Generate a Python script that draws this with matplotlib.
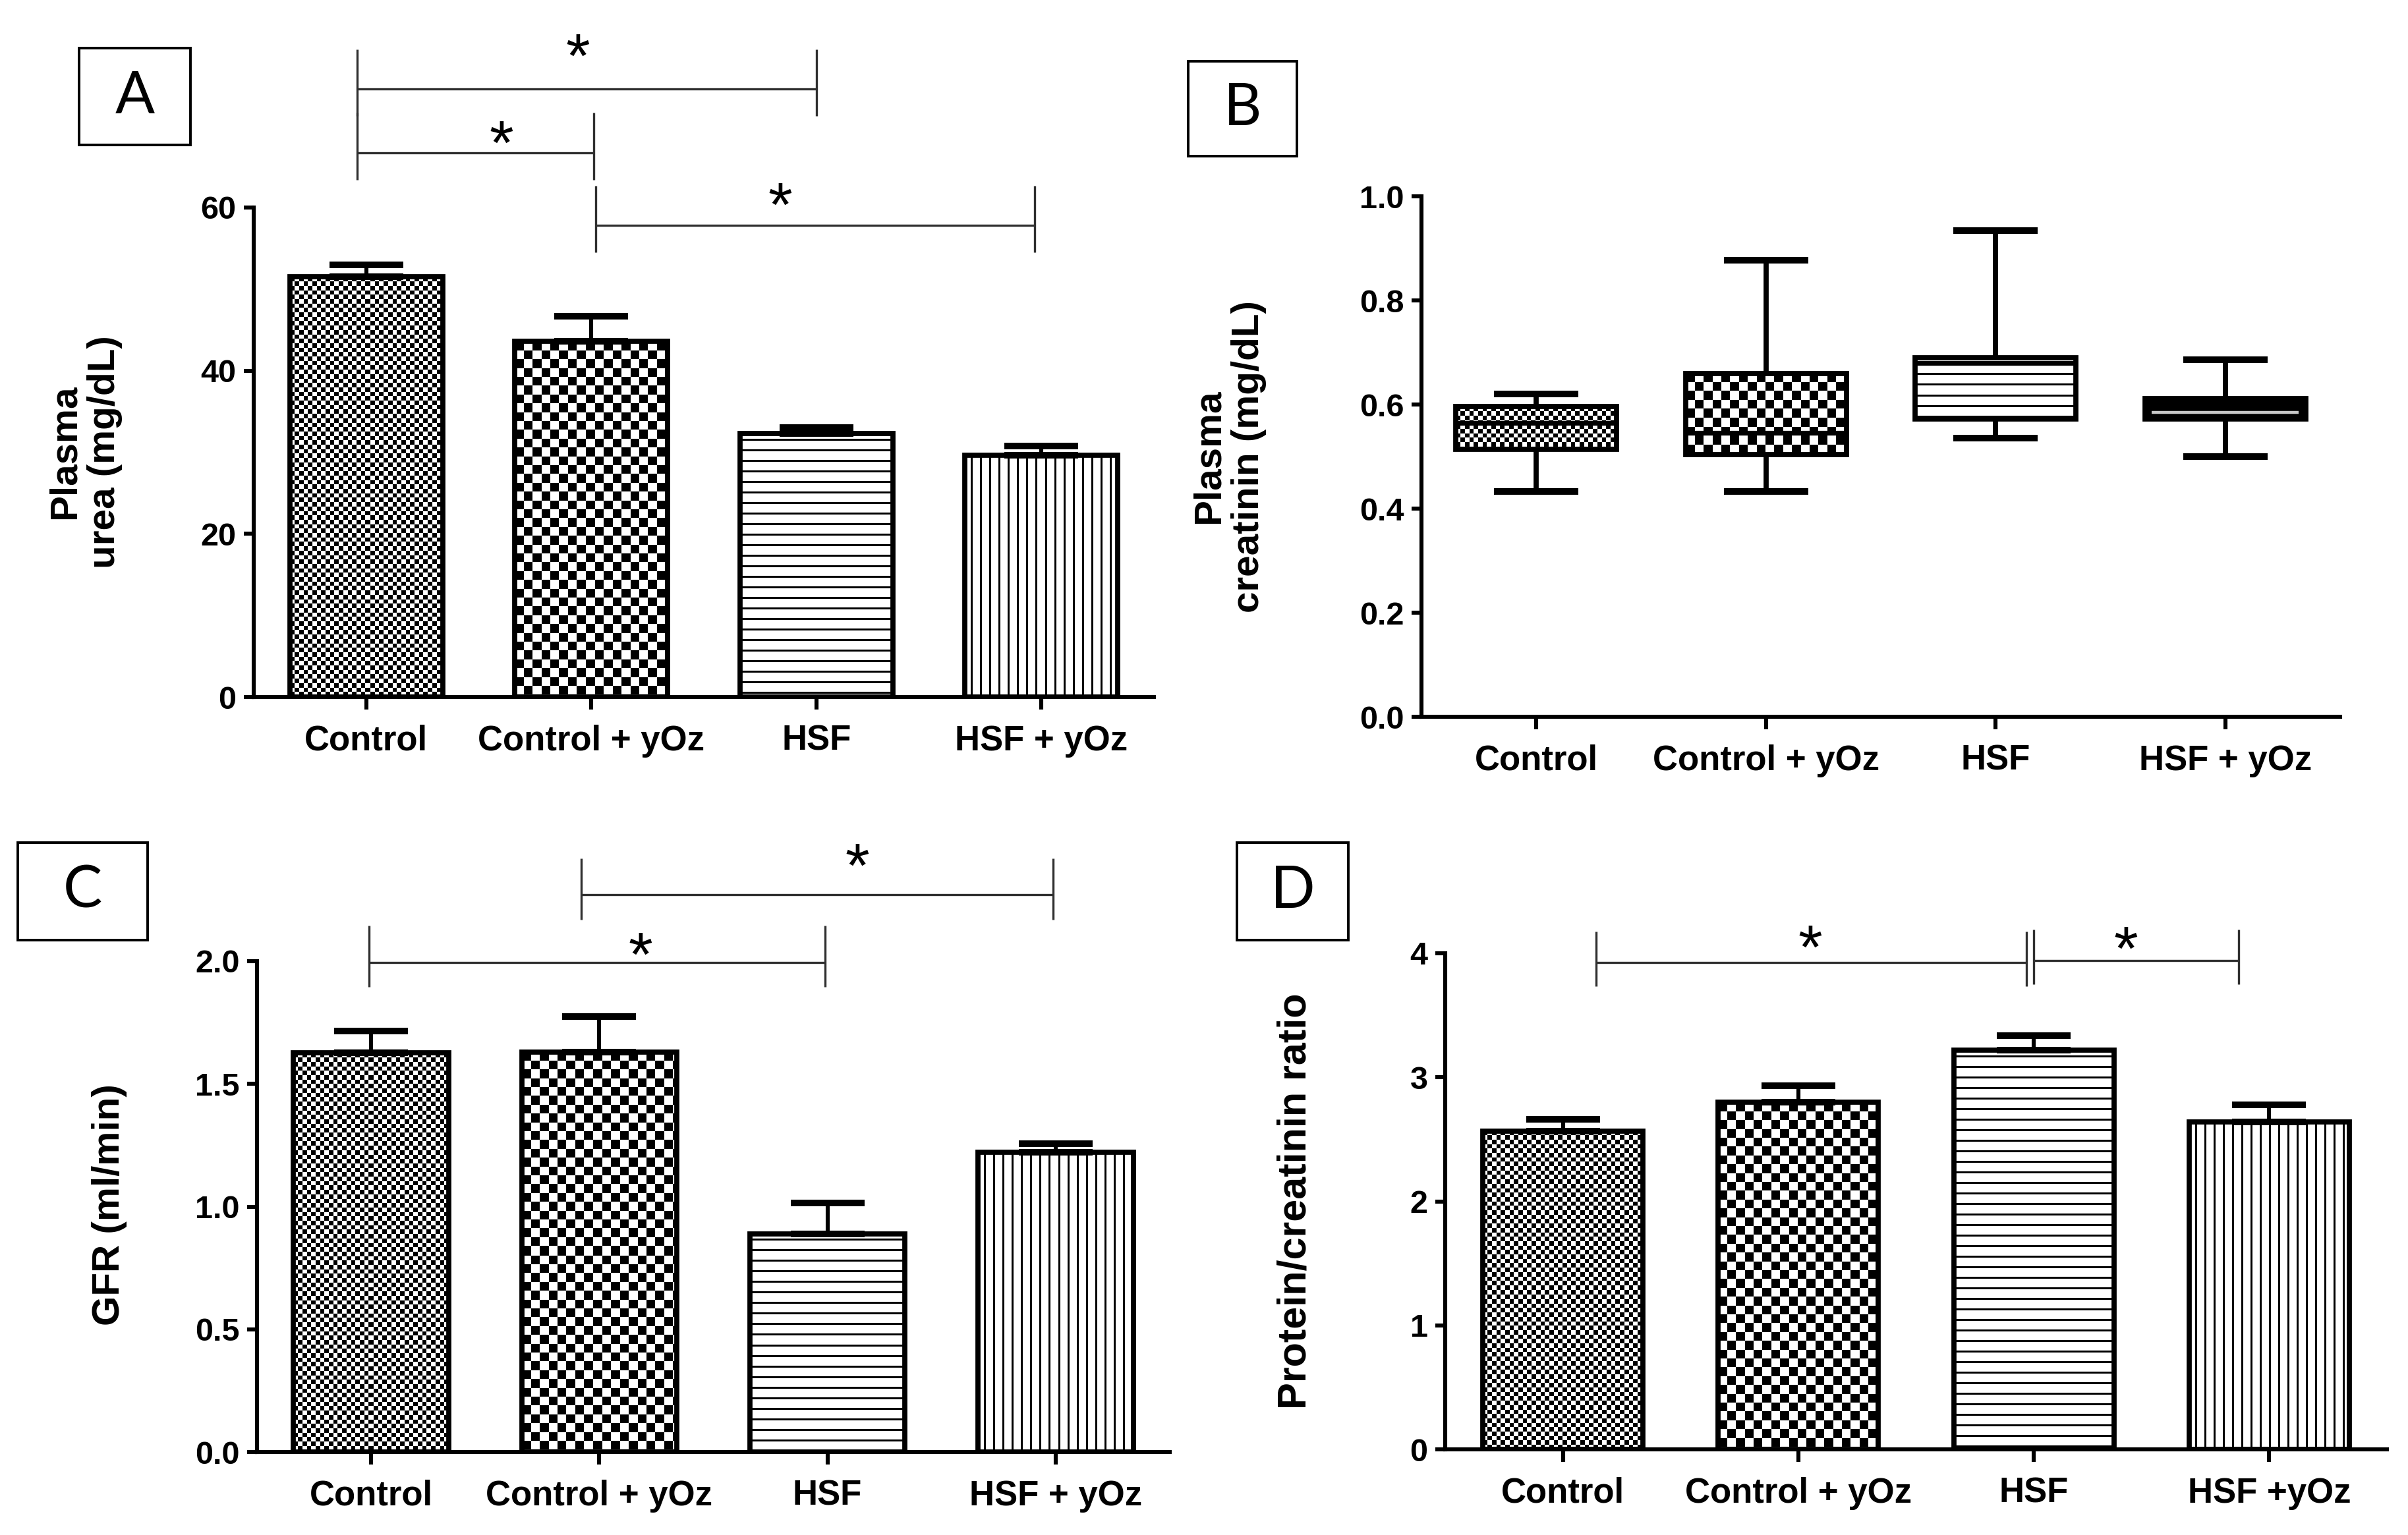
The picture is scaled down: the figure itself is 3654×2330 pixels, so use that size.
import numpy as np
import matplotlib
matplotlib.use('Agg')
import matplotlib.pyplot as plt
from matplotlib.patches import Rectangle
from matplotlib.ticker import FormatStrFormatter

W, H = 3655, 2330
DPI = 200

# ---------------- data ----------------
groups = ['Control', 'Control + yOz', 'HSF', 'HSF + yOz']
groups_d = ['Control', 'Control + yOz', 'HSF', 'HSF +yOz']

urea_mean = [51.5, 43.6, 32.3, 29.6]
urea_sem = [1.5, 3.1, 0.7, 1.2]

creat_whislo = [0.433, 0.433, 0.535, 0.500]
creat_q1 = [0.514, 0.504, 0.572, 0.572]
creat_med = [0.565, 0.546, 0.680, 0.585]
creat_q3 = [0.596, 0.660, 0.690, 0.611]
creat_whishi = [0.620, 0.877, 0.934, 0.686]

gfr_mean = [1.626, 1.630, 0.889, 1.222]
gfr_sem = [0.090, 0.144, 0.127, 0.035]

pcr_mean = [2.568, 2.798, 3.219, 2.641]
pcr_sem = [0.096, 0.134, 0.115, 0.138]

bar_patterns = ['fine', 'checker', 'hlines', 'vlines']
box_patterns = ['fine', 'checker', 'hlines', 'solid']

# significance brackets (x1, x2, y, star x, star y)
sigA_x1 = [-0.04, -0.04, 1.02]
sigA_x2 = [2.00, 1.01, 2.97]
sigA_y = [74.5, 66.7, 57.8]
sigA_sx = [0.94, 0.60, 1.84]
sigA_sy = [80.4, 69.8, 62.2]

sigC_x1 = [-0.01, 0.92]
sigC_x2 = [1.99, 2.99]
sigC_y = [1.994, 2.27]
sigC_sx = [1.18, 2.13]
sigC_sy = [2.09, 2.45]

sigD_x1 = [0.14, 2.00]
sigD_x2 = [1.97, 2.87]
sigD_y = [3.927, 3.94]
sigD_sx = [1.05, 2.39]
sigD_sy = [4.17, 4.16]

# ---------------- style ----------------
plt.rcParams['font.family'] = ['Liberation Sans', 'DejaVu Sans']
plt.rcParams['font.weight'] = 'bold'
LW_AX = 2.2
LW_BAR = 2.8
STAR_FS = 34

fig = plt.figure(figsize=(W / DPI, H / DPI), dpi=DPI)


def add_ax(l, r, t, b):
    return fig.add_axes([l / W, 1 - b / H, (r - l) / W, (b - t) / H])


def pattern_array(kind, wpx, hpx):
    xs = np.arange(wpx)[None, :]
    ys = np.arange(hpx)[:, None]
    if kind == 'fine':
        s = 6.7
        arr = (np.floor(xs / s) + np.floor(ys / s)) % 2
    elif kind == 'checker':
        s = 13.4
        arr = (np.floor(xs / s) + np.floor(ys / s)) % 2
    elif kind == 'hlines':
        arr = np.broadcast_to(((ys + 8) % 16) >= 3, (hpx, wpx)).astype(float)
    elif kind == 'vlines':
        arr = np.broadcast_to(((xs + 5) % 14) >= 3, (hpx, wpx)).astype(float)
    else:
        arr = np.zeros((hpx, wpx))
    return arr


def fill_pattern(ax, patch, kind, x0, x1, y0, y1):
    p0 = ax.transData.transform((x0, y0))
    p1 = ax.transData.transform((x1, y1))
    wpx = max(int(round(abs(p1[0] - p0[0]))), 1)
    hpx = max(int(round(abs(p1[1] - p0[1]))), 1)
    arr = pattern_array(kind, wpx, hpx)
    im = ax.imshow(arr, cmap='gray', vmin=0, vmax=1, extent=(x0, x1, y0, y1),
                   origin='upper', interpolation='nearest', aspect='auto', zorder=2)
    im.set_clip_path(patch)


def style_axes(ax, ylim, yticks, fmt=None, labels=groups):
    ax.set_xlim(-0.5, 3.5)
    ax.set_ylim(*ylim)
    for s in ['top', 'right']:
        ax.spines[s].set_visible(False)
    for s in ['left', 'bottom']:
        ax.spines[s].set_linewidth(LW_AX)
    ax.set_yticks(yticks)
    if fmt:
        ax.yaxis.set_major_formatter(FormatStrFormatter(fmt))
    ax.set_xticks(range(len(labels)))
    ax.set_xticklabels(labels)
    ax.tick_params(axis='y', direction='out', length=5.5, width=LW_AX, pad=4, labelsize=17.5)
    ax.tick_params(axis='x', direction='out', length=7, width=LW_AX, pad=8, labelsize=19)
    for t in ax.get_xticklabels() + ax.get_yticklabels():
        t.set_fontweight('bold')


def bar_panel(ax, means, sems, ylim, yticks, fmt=None, labels=groups):
    style_axes(ax, ylim, yticks, fmt, labels)
    x = np.arange(len(means))
    bars = ax.bar(x, means, width=0.68, facecolor='none', edgecolor='black',
                  linewidth=LW_BAR, zorder=3)
    for b, kind in zip(bars, bar_patterns):
        x0 = b.get_x()
        fill_pattern(ax, b, kind, x0, x0 + b.get_width(), 0, b.get_height())
    ax.errorbar(x, means, yerr=[np.zeros(len(sems)), sems], fmt='none', ecolor='black',
                elinewidth=2.2, capsize=20, capthick=3.6, zorder=4)


def sig(ax, x1s, x2s, ys, sxs, sys_, up, dn):
    for x1, x2, y in zip(x1s, x2s, ys):
        kw = dict(color='#303030', lw=1.2, clip_on=False, zorder=5, solid_capstyle='butt')
        ax.plot([x1, x2], [y, y], **kw)
        ax.plot([x1, x1], [y - dn, y + up], **kw)
        ax.plot([x2, x2], [y - dn, y + up], **kw)
    for sx, sy in zip(sxs, sys_):
        ax.annotate('*', xy=(sx, sy), xytext=(0, -0.58 * STAR_FS), textcoords='offset points',
                    ha='center', va='baseline', fontsize=STAR_FS, fontweight='normal',
                    annotation_clip=False)


# ---------------- Panel A ----------------
axA = add_ax(385, 1751, 315, 1058)
bar_panel(axA, urea_mean, urea_sem, (0, 60), [0, 20, 40, 60])
sig(axA, sigA_x1, sigA_x2, sigA_y, sigA_sx, sigA_sy, 4.9, 3.3)

# ---------------- Panel B ----------------
axB = add_ax(2157, 3551, 298, 1088)
style_axes(axB, (0, 1.0), [0, 0.2, 0.4, 0.6, 0.8, 1.0], '%.1f')
stats = []
for lo, q1, md, q3, hi in zip(creat_whislo, creat_q1, creat_med, creat_q3, creat_whishi):
    stats.append(dict(whislo=lo, q1=q1, med=md, q3=q3, whishi=hi, fliers=[]))
bp = axB.bxp(stats, positions=range(4), widths=0.70, capwidths=0.34, patch_artist=True,
             showfliers=False, manage_ticks=False,
             boxprops=dict(facecolor='none', edgecolor='black', linewidth=LW_BAR),
             whiskerprops=dict(color='black', linewidth=2.8),
             capprops=dict(color='black', linewidth=3.6),
             medianprops=dict(color='black', linewidth=2.6))
for i, (box, kind) in enumerate(zip(bp['boxes'], box_patterns)):
    box.set_zorder(3)
    fill_pattern(axB, box, kind, i - 0.35, i + 0.35, creat_q1[i], creat_q3[i])
for m, kind in zip(bp['medians'], box_patterns):
    m.set_zorder(4)
    if kind == 'solid':
        m.set_color('#c8c8c8')
        m.set_linewidth(1.6)
        xd = m.get_xdata()
        m.set_xdata([xd[0] + 0.03, xd[1] - 0.03])
axB.set_xlim(-0.5, 3.5)
axB.set_ylim(0, 1.0)

# ---------------- Panel C ----------------
axC = add_ax(390, 1775, 1459, 2204)
bar_panel(axC, gfr_mean, gfr_sem, (0, 2.0), [0, 0.5, 1.0, 1.5, 2.0], '%.1f')
sig(axC, sigC_x1, sigC_x2, sigC_y, sigC_sx, sigC_sy, 0.15, 0.10)

# ---------------- Panel D ----------------
axD = add_ax(2193, 3622, 1447, 2200)
bar_panel(axD, pcr_mean, pcr_sem, (0, 4), [0, 1, 2, 3, 4], labels=groups_d)
sig(axD, sigD_x1, sigD_x2, sigD_y, sigD_sx, sigD_sy, 0.25, 0.19)

# ---------------- y labels ----------------
def ylab(xc, yc, txt, size=21):
    fig.text(xc / W, 1 - yc / H, txt, rotation=90, ha='center', va='center',
             multialignment='center', fontsize=size, fontweight='bold', linespacing=1.15)

ylab(129, 686, 'Plasma\nurea (mg/dL)')
ylab(1865, 693, 'Plasma\ncreatinin (mg/dL)')
ylab(166, 1829, 'GFR (ml/min)')
ylab(1966, 1823, 'Protein/creatinin ratio', 22)

# ---------------- panel letters ----------------
def letter(x0, y0, x1, y1, ch):
    fig.add_artist(Rectangle((x0 / W, 1 - y1 / H), (x1 - x0) / W, (y1 - y0) / H,
                             transform=fig.transFigure, fill=False, lw=1.4,
                             edgecolor='black'))
    fig.text((x0 + x1) / 2 / W, 1 - (y0 + y1) / 2 / H, ch, ha='center', va='center',
             fontsize=32, fontweight='normal', family=['Lato', 'DejaVu Sans'])

letter(120, 73, 289, 220, 'A')
letter(1803, 93, 1968, 237, 'B')
letter(27, 1279, 224, 1427, 'C')
letter(1877, 1279, 2046, 1427, 'D')

fig.savefig('out.png', dpi=DPI, facecolor='white')
